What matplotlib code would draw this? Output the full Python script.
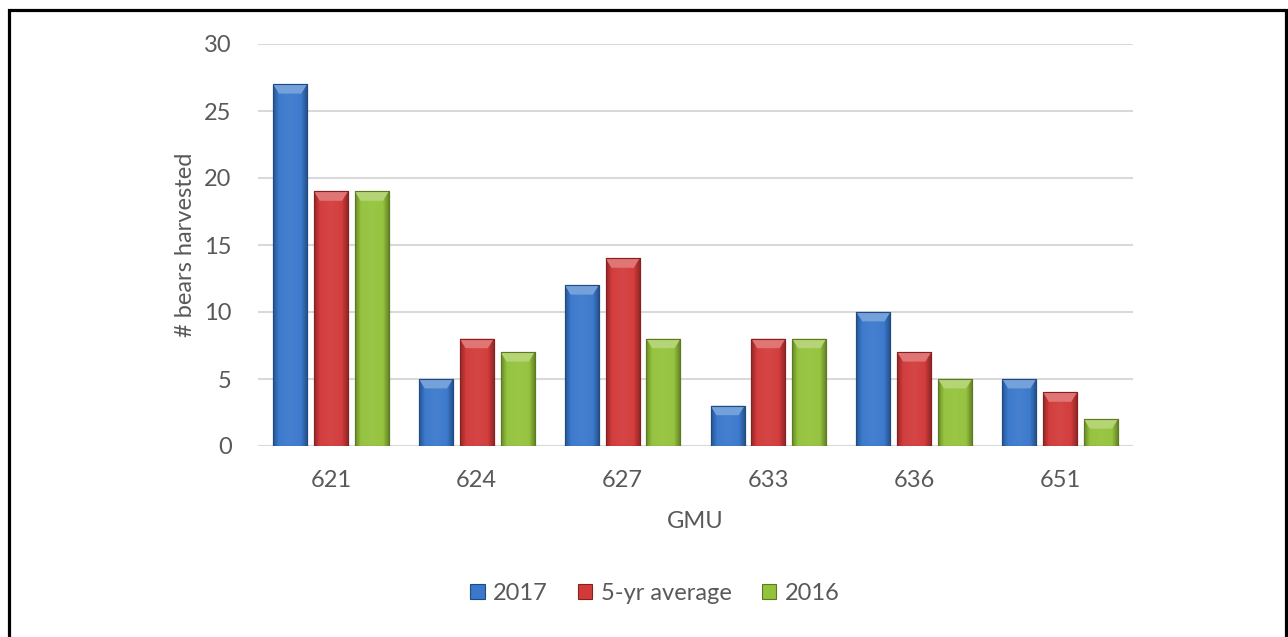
import numpy as np
import matplotlib.pyplot as plt
from matplotlib.colors import to_rgb
from matplotlib.patches import Polygon, Rectangle

# GMU harvest counts
gmu = ["621", "624", "627", "633", "636", "651"]
series_names = ["2017", "5-yr average", "2016"]
harvest_2017 = [27, 5, 12, 3, 10, 5]
harvest_5yr = [19, 8, 14, 8, 7, 4]
harvest_2016 = [19, 7, 8, 8, 5, 2]

colors = ["#3a78cc", "#d23a3a", "#94c23c"]
edges = ["#1f4a85", "#8a1f1f", "#5c7a1e"]
text_col = "#595959"

plt.rcParams["font.family"] = ["Lato", "DejaVu Sans"]

fig = plt.figure(figsize=(12.88, 6.37), dpi=100)
ax = fig.add_axes([258 / 1288, 1 - 446 / 637, 875 / 1288, 402 / 637])

x = np.arange(len(gmu))
bw = 0.233
step = 0.28
series = [harvest_2017, harvest_5yr, harvest_2016]


def shade(rgb, k):
    rgb = np.array(rgb)
    if k >= 0:
        return rgb + (1 - rgb) * k
    return rgb * (1 + k)


handles = []
for i, (vals, c, ec) in enumerate(zip(series, colors, edges)):
    bars = ax.bar(x + (i - 1) * step, vals, bw, color=c, edgecolor=ec,
                  linewidth=0.8, zorder=2, label=series_names[i])
    handles.append(bars)
    base = to_rgb(c)
    for p in bars.patches:
        x0, w, h = p.get_x(), p.get_width(), p.get_height()
        # horizontal shading: darker toward the sides
        t = np.linspace(0, 1, 60)
        prof = np.minimum(t, 1 - t) / 0.5
        k = -0.3 * (1 - np.clip(prof / 0.35, 0, 1)) + 0.06 * np.clip(prof, 0, 1)
        img = np.array([[shade(base, kk) for kk in k]])
        im = ax.imshow(img, extent=[x0, x0 + w, 0, h], aspect="auto",
                       zorder=2.1, interpolation="bilinear")
        im.set_clip_path(p)
        # top bevel
        bx, by = 0.04, 0.7
        top = Polygon([[x0, h], [x0 + w, h], [x0 + w - bx, h - by], [x0 + bx, h - by]],
                      closed=True, facecolor=shade(base, 0.3), edgecolor="none",
                      zorder=2.2)
        ax.add_patch(top)
        # crisp outline
        ax.add_patch(Rectangle((x0, 0), w, h, fill=False, edgecolor=ec,
                               linewidth=0.8, zorder=2.3))

ax.set_xlim(-0.5, len(gmu) - 0.5)
ax.set_ylim(0, 30)
ax.set_yticks(range(0, 31, 5))
ax.set_xticks(x)
ax.set_xticklabels(gmu)
ax.grid(axis="y", color="#d9d9d9", linewidth=1.5, zorder=0)
ax.set_axisbelow(True)
for s in ax.spines.values():
    s.set_visible(False)
ax.axhline(0, color="#d9d9d9", linewidth=1.5, zorder=1)
ax.tick_params(axis="both", length=0, labelsize=17, labelcolor=text_col)
ax.tick_params(axis="y", pad=19)
ax.tick_params(axis="x", pad=17)

ax.set_xlabel("GMU", fontsize=17, color=text_col)
ax.xaxis.set_label_coords(0.5, (446 - 521) / 402)
ax.xaxis.label.set_va("center")
ax.set_ylabel("# bears harvested", fontsize=17, color=text_col)
ax.yaxis.set_label_coords((185 - 258) / 875, 0.5)
ax.yaxis.label.set_va("center")

leg = fig.legend(handles=handles, labels=series_names, loc="center",
                 bbox_to_anchor=(655 / 1288, 1 - 593 / 637), ncol=3,
                 frameon=False, fontsize=17, handlelength=0.6,
                 handleheight=0.6, handletextpad=0.35, columnspacing=1.3)
for t in leg.get_texts():
    t.set_color(text_col)

# outer frame
fig.add_artist(Rectangle((8.5 / 1288, -0.05), 1277 / 1288, 1.05 - 9.5 / 637,
                         transform=fig.transFigure, fill=False,
                         edgecolor="black", linewidth=2.3))

fig.savefig("out.png", dpi=100)
